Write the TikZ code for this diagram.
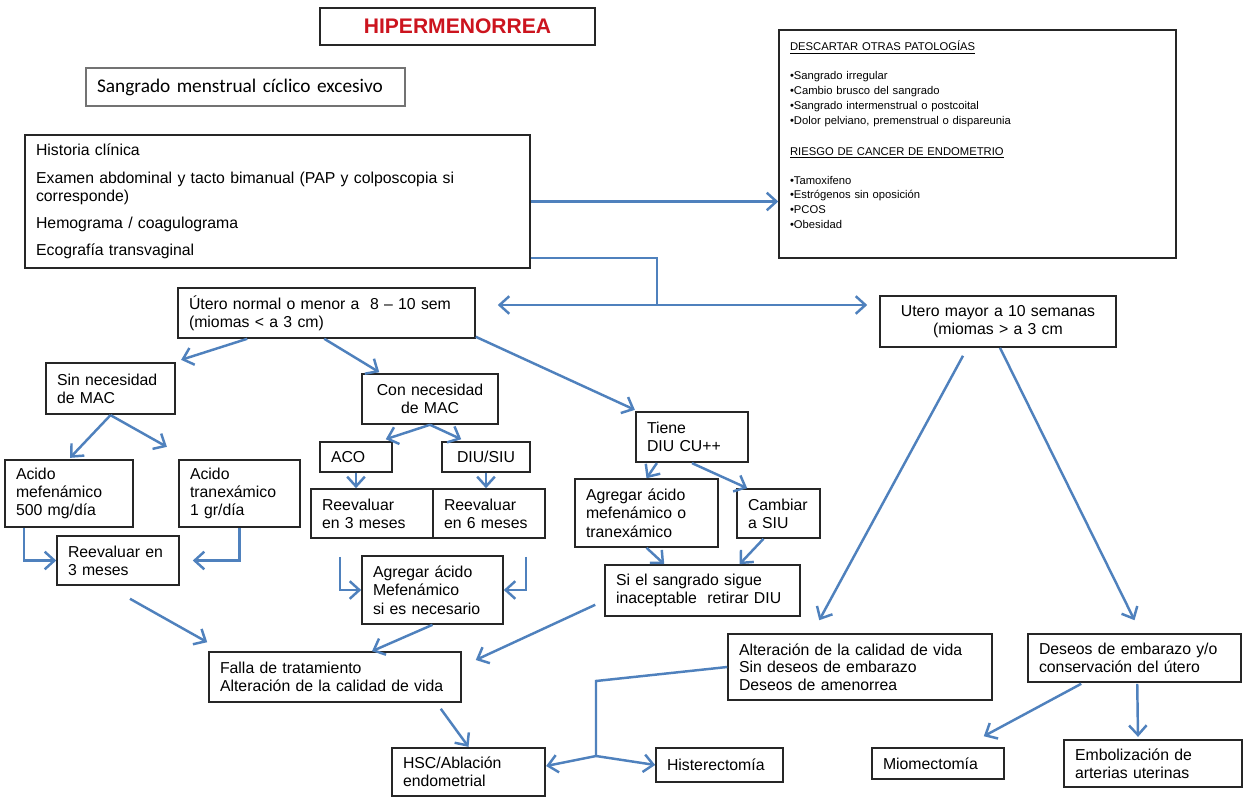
\documentclass[tikz,border=0pt]{standalone}
\usepackage{fontspec}
\setmainfont{Liberation Sans}
\newfontfamily\calibfont{Carlito}
\usetikzlibrary{arrows.meta,calc}
\definecolor{arrowblue}{RGB}{79,129,189}
\definecolor{titlered}{RGB}{204,20,30}
\begin{document}
\begin{tikzpicture}
    [x=0.02cm,y=-0.02cm,
     box/.style={draw=black!85,line width=0.9pt,inner xsep=0.22cm,inner ysep=0pt,align=left,font=\fontsize{9}{10.4}\selectfont},
     heavy/.style={box,line width=1.3pt},
     link/.style={draw=arrowblue,line width=1.4pt},
     arr/.style={link,-{Straight Barb[length=5.5pt,width=10pt]}}]
    \useasboundingbox[fill=white] (0,0) rectangle (1247,797);

    % top of the chart
    \node[heavy,align=center,text width=5.06cm,minimum height=0.74cm,font=\fontsize{12}{14}\selectfont\bfseries,text=titlered] (title) at (457.5,26.5) {HIPERMENORREA};
    \node[box,draw=black!55,text width=5.94cm,minimum height=0.76cm,font=\calibfont\fontsize{11}{13}\selectfont] (sangrado) at (245.5,87) {Sangrado menstrual cíclico excesivo};
    \node[box,text width=9.66cm,minimum height=2.66cm] (historia) at (277.5,201.5) {Historia clínica\\[5pt] Examen abdominal y tacto bimanual (PAP y colposcopia si\\ corresponde)\\[5pt] Hemograma / coagulograma\\[5pt] Ecografía transvaginal};
    \node[box,text width=7.5cm,minimum height=4.56cm,font=\fontsize{6.4}{8.5}\selectfont] (descartar) at (977.5,144) {\underline{DESCARTAR OTRAS PATOLOGÍAS}\\[8pt] •Sangrado irregular\\ •Cambio brusco del sangrado\\ •Sangrado intermenstrual o postcoital\\ •Dolor pelviano, premenstrual o dispareunia\\[9pt] \underline{RIESGO DE CANCER DE ENDOMETRIO}\\[8pt] •Tamoxifeno\\ •Estrógenos sin oposición\\ •PCOS\\ •Obesidad\\[2pt]\mbox{}};

    % size of the uterus
    \node[box,text width=5.5cm,minimum height=1cm] (normal) at (326.5,313) {Útero normal o menor a~ 8 – 10 sem\\(miomas < a 3 cm)};
    \node[box,align=center,text width=4.28cm,minimum height=1.02cm] (mayor) at (998,321.5) {Utero mayor a 10 semanas\\(miomas > a 3 cm};

    % normal uterus
    \node[heavy,text width=2.14cm,minimum height=1.02cm] (sinmac) at (110.5,388.5) {Sin necesidad\\ de MAC};
    \node[box,align=center,text width=2.28cm,minimum height=1cm] (conmac) at (430,399) {Con necesidad\\de MAC};
    \node[heavy,text width=1.8cm,minimum height=1cm] (tiene) at (692,437) {Tiene\\DIU CU++};
    \node[heavy,text width=2.12cm,minimum height=1.34cm] (mefen) at (69,493.5) {Acido\\ mefenámico\\500 mg/día};
    \node[heavy,text width=1.98cm,minimum height=1.34cm] (tranex) at (239.5,493.5) {Acido\\tranexámico\\1 gr/día};
    \node[box,text width=2cm,minimum height=0.98cm] (reev1) at (118,560.5) {Reevaluar en\\ 3 meses};
    \node[box,text width=1cm,minimum height=0.6cm] (aco) at (356,457) {ACO};
    \node[box,align=center,text width=1.32cm,minimum height=0.6cm] (diu) at (486,457) {DIU/SIU};
    \node[box,text width=2cm,minimum height=0.98cm] (reev3) at (372,513.5) {Reevaluar\\en 3 meses};
    \node[box,text width=1.8cm,minimum height=0.98cm] (reev6) at (489,513.5) {Reevaluar\\en 6 meses};
    \node[box,text width=2.38cm,minimum height=1.36cm] (agrmef) at (432.5,590) {Agregar ácido\\Mefenámico\\ si es necesario};
    \node[box,text width=2.42cm,minimum height=1.36cm] (agrac) at (646.5,513) {Agregar ácido\\mefenámico o\\tranexámico};
    \node[box,text width=1.22cm,minimum height=0.98cm] (cambiar) at (778.5,513.5) {Cambiar\\a SIU};
    \node[box,text width=3.46cm,minimum height=1.02cm] (retirar) at (702.5,590.5) {Si el sangrado sigue\\inaceptable~ retirar DIU};
    \node[box,text width=4.6cm,minimum height=1cm,font=\fontsize{9}{10}\selectfont] (falla) at (335,677) {Falla de tratamiento\\Alteración de la calidad de vida};

    % large uterus
    \node[box,text width=4.84cm,minimum height=1.32cm,font=\fontsize{9}{10}\selectfont] (altera) at (860,667) {Alteración de la calidad de vida\\Sin deseos de embarazo\\ Deseos de amenorrea};
    \node[box,text width=3.82cm,minimum height=0.96cm] (deseos) at (1134.5,658) {Deseos de embarazo y/o\\conservación del útero};

    % surgery
    \node[heavy,text width=2.62cm,minimum height=0.96cm] (hsc) at (468.5,772) {HSC/Ablación\\endometrial};
    \node[box,text width=2.1cm,minimum height=0.68cm] (hister) at (719.5,765) {Histerectomía};
    \node[box,text width=2.2cm,minimum height=0.62cm] (miom) at (938,763.5) {Miomectomía};
    \node[heavy,text width=3.12cm,minimum height=0.94cm] (emboli) at (1153,763.5) {Embolización de\\arterias uterinas};

    \coordinate (split) at (657,305);
    \coordinate (bend) at (596,681);
    \coordinate (fork) at (596,756);

    \draw[arr] (historia.east) -- (historia.east -| descartar.west);
    \draw[link] ($(historia.south east)+(0,-11)$) -| (split);
    \draw[arr,shorten >=0.44cm] (split) -- (normal.east |- split);
    \draw[arr,shorten >=0.24cm] (split) -- (mayor.west |- split);

    \draw[arr] ($(normal.south west)+(70,0)$) -- ($(sinmac.north east)+(5,-2)$);
    \draw[arr] ($(normal.south west)+(147,0)$) -- ($(conmac.north west)+(18,-1)$);
    \draw[arr] ($(normal.south east)+(0,-2)$) -- ($(tiene.north west)+(0,-1)$);
    \draw[arr] (sinmac.south) -- ($(mefen.north)+(1,-1)$);
    \draw[arr] (sinmac.south) -- ($(tranex.north west)+(-11,-12)$);
    \draw[arr] ($(mefen.south west)+(20,0)$) |- (reev1.west);
    \draw[arr,shorten >=0.26cm] (tranex.south) |- (reev1.east);
    \draw[arr] ($(reev1.south)+(12,13)$) -- ($(falla.north west)+(-1,-9)$);
    \draw[arr] (conmac.south) -- ($(aco.north east)+(-7,-2)$);
    \draw[arr] (conmac.south) -- ($(diu.north west)+(20,-2)$);
    \draw[arr] (aco.south) -- (aco.south |- reev3.north);
    \draw[arr] (diu.south) -- (diu.south |- reev6.north);
    \draw[arr] ($(reev3.south west)+(30,18)$) |- (agrmef.west);
    \draw[arr] ($(reev6.south east)+(-20,18)$) |- (agrmef.east);
    \draw[arr] (agrmef.south) -- ($(falla.north)+(37,0)$);
    \draw[arr] ($(retirar.south west)+(-9,-12)$) -- ($(falla.east)+(14,-17)$);
    \draw[arr] ($(falla.south east)+(-21,6)$) -- (hsc.north);
    \draw[arr] ($(tiene.south west)+(22,0)$) -- (agrac.north);
    \draw[arr] (tiene.south) -- ($(cambiar.north west)+(11,0)$);
    \draw[arr] (agrac.south) -- ($(retirar.north west)+(60,0)$);
    \draw[arr] ($(cambiar.south)+(-15,0)$) -- ($(retirar.north)+(37,0)$);

    \draw[arr] ($(mayor.south)+(-35,8)$) -- ($(altera.north west)+(92,-13)$);
    \draw[arr] ($(mayor.south)+(2,0)$) -- ($(deseos.north)+(0,-13)$);
    \draw[link] (altera.west) -- (bend) -- (fork);
    \draw[arr] (fork) -- ($(hsc.east)+(0,-6)$);
    \draw[arr] (fork) -- (hister.west);
    \draw[arr] ($(deseos.south west)+(54,1)$) -- ($(miom.north east)+(-21,-11)$);
    \draw[arr] ($(deseos.south west)+(110,1)$) -- ($(emboli.north)+(-15,-2)$);
\end{tikzpicture}
\end{document}
